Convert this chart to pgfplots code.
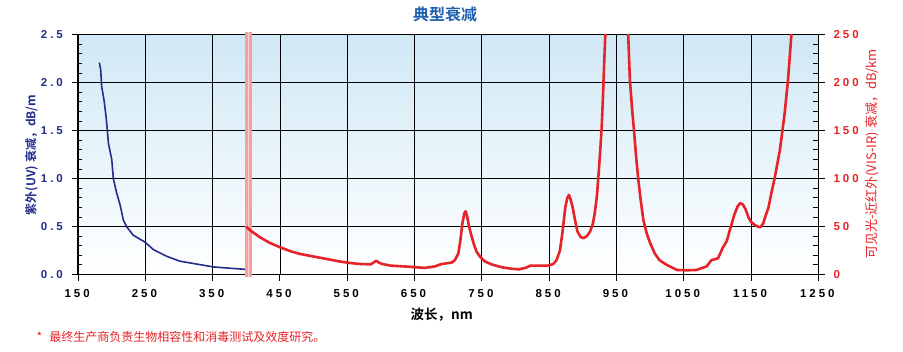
\documentclass[border=0pt]{standalone}
\usepackage{fontspec}
\setmainfont{Liberation Sans}
\newfontfamily\cjk{Noto Sans CJK SC}[BoldFont={Noto Sans CJK SC Bold}]
\newfontfamily\tickfont{Liberation Sans}[LetterSpace=26]
\usepackage{pgfplots}
\pgfplotsset{compat=1.18}
\definecolor{uvblue}{RGB}{35,45,140}
\definecolor{irred}{RGB}{230,35,40}
\definecolor{bgblue}{RGB}{208,232,245}
\definecolor{band}{RGB}{243,160,160}
\definecolor{bandlight}{RGB}{250,210,210}
\definecolor{titleblue}{RGB}{30,95,175}
\begin{document}
\begin{tikzpicture}[x=1pt,y=1pt]
\useasboundingbox (-78.1,-77.4) rectangle (824.9,274.6);
\begin{axis}[
  at={(0,0)}, anchor=south west,
  scale only axis, width=740.2pt, height=239.9pt,
  xmin=150, xmax=1250, ymin=0, ymax=2.5,
  clip=false,
  axis background/.style={shade, top color=bgblue, bottom color=white},
  axis line style={line width=1.2pt},
  xtick={150,250,...,1250},
  ytick={0,0.5,...,2.5},
  minor y tick num=4,
  xtick pos=bottom, ytick pos=left,
  tick align=inside,
  major tick length=-6pt, minor tick length=4pt,
  tick style={black, line width=1pt},
  grid=major,
  major grid style={black, line width=0.9pt},
  /pgf/number format/assume math mode=true,
  /pgf/number format/1000 sep={},
  xticklabel style={font=\tickfont\bfseries\fontsize{11.5}{12}\selectfont, inner sep=0pt, yshift=-15pt, xshift=-1pt},
  yticklabel style={font=\tickfont\bfseries\fontsize{11.5}{12}\selectfont, color=uvblue, inner sep=0pt, xshift=-15pt,
     /pgf/number format/.cd, fixed, fixed zerofill, precision=1},
]
\addplot[band, line width=6.5pt, forget plot] coordinates {(403,-0.03) (403,2.53)};
\addplot[bandlight, line width=1.2pt, forget plot] coordinates {(403,-0.03) (403,2.53)};
\addplot[uvblue, line width=1.6pt, line join=round] coordinates {
(181.5,2.21) (183.5,2.14) (185,1.96) (188.5,1.82) (191.5,1.65) (193.4,1.51) (195,1.37)
(200,1.20) (202.4,1.00) (207.3,0.85) (212.3,0.73) (217.2,0.57) (222,0.50) (232,0.41)
(249,0.34) (262,0.26) (282,0.19) (301,0.14) (326,0.11) (351,0.08) (376,0.066) (398,0.055)
};
\end{axis}
\begin{axis}[
  at={(0,0)}, anchor=south west,
  scale only axis, width=740.2pt, height=239.9pt,
  xmin=150, xmax=1250, ymin=0, ymax=250,
  axis x line=none, axis y line*=right,
  axis line style={line width=1.2pt},
  ytick={0,50,...,250},
  minor y tick num=4,
  tick align=inside,
  major tick length=-7pt, minor tick length=5pt,
  tick style={black, line width=1pt},
  /pgf/number format/assume math mode=true,
  yticklabel style={font=\tickfont\bfseries\fontsize{11.5}{12}\selectfont, color=irred, inner sep=0pt, xshift=15pt},
]
\addplot[irred, line width=2.6pt, line join=round] coordinates {
(400,50) (405,46.5) (420,39) (435,33) (450,28.5) (465,24.5) (480,21.5) (495,19.5) (510,17.5)
(525,15.5) (540,13.5) (555,12) (570,11) (585,10.7) (590,13) (593,14.5) (597,12.5) (602,11)
(615,9.3) (640,8.3) (665,7) (680,8.5) (690,11) (705,12.5) (710,15) (715,22) (718,35) (721,53)
(724,64) (726,66) (728,61) (731,50) (734,42) (738,32) (742,24) (748,18) (755,13.5) (765,10.5)
(780,7.6) (795,6) (805,5.5) (815,7) (822,9.3) (835,9.3) (848,9.3) (856,11) (861,15) (866,25)
(870,45) (874,70) (877,80) (879.5,83) (882,78) (885,70) (889,55) (892,45) (897,39) (901,38)
(906,40) (911,45) (915,53) (918,65) (921,82) (923.5,105) (926,130) (928,152) (930,185)
(931.5,215) (933.5,250) (934,290) (967,290) (967.5,250) (970,203) (973,175) (976,151) (979,125)
(982.5,99) (986,78) (990,57) (995,43) (1000,33) (1007,22) (1014,15) (1025,10) (1040,4.8)
(1055,4.5) (1069,4.8) (1076,6.6) (1084,8.5) (1091,15) (1101,17) (1108,28) (1114,35) (1118,45)
(1121,52) (1125,62) (1130,71) (1134,74.5) (1138,73) (1142,68) (1146,60) (1150,55) (1155,52)
(1160,50) (1164,49.5) (1168,53) (1172,62) (1176,70) (1180,84) (1185,100) (1193,130)
(1200,168) (1205,203) (1210,250) (1211,290)
};
\end{axis}
\node[font=\cjk\bfseries\fontsize{16}{16}\selectfont, color=titleblue] at (366.9,260.6) {典型衰减};
\node[font=\cjk\bfseries\fontsize{13.5}{14}\selectfont] at (363.6,-40.4) {波长，nm};
\node[rotate=90, font=\cjk\bfseries\fontsize{12}{12}\selectfont, color=uvblue] at (-46.6,119.6) {紫外(UV) 衰减，dB/m};
\node[rotate=90, font=\cjk\fontsize{13}{13}\selectfont, color=irred] at (794.4,120.6) {可见光-近红外(VIS-IR) 衰减，dB/km};
\node[anchor=west, inner sep=0pt, font=\cjk\fontsize{12}{12}\selectfont, color=irred] at (-41.6,-62.1) {*\hspace{7pt}最终生产商负责生物相容性和消毒测试及效度研究。};
\end{tikzpicture}
\end{document}
